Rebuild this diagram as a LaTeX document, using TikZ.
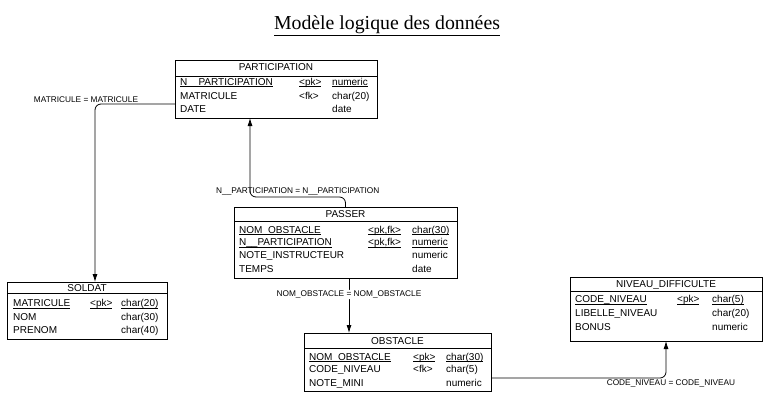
\documentclass[tikz,border=0pt]{standalone}
\usepackage{fontspec}
\setmainfont{Liberation Serif}
\setsansfont{Liberation Sans}
\usetikzlibrary{arrows.meta}

\newcommand{\keyul}[1]{\setbox0\hbox{#1}\rlap{\rule[-1.8pt]{\wd0}{0.7pt}}\box0}

\begin{document}
\begin{tikzpicture}[x=1pt,y=-1pt,
    tbl/.style={draw, line width=.8pt, inner sep=0pt, outer sep=0pt},
    head/.style={anchor=base, inner sep=0pt, font=\sffamily\fontsize{10}{11}\selectfont},
    attr/.style={anchor=base west, inner sep=0pt, font=\sffamily\fontsize{10}{11}\selectfont},
    link/.style={line width=.8pt, rounded corners=6pt, -{Latex[length=8pt,width=5pt]}},
    lbl/.style={font=\sffamily\fontsize{8.3}{9}\selectfont, inner sep=1pt}]
    \useasboundingbox (0,0) rectangle (768,416);
    \node[font=\fontsize{19.8}{22}\selectfont, anchor=base, inner sep=0pt] (title) at (387,29.5) {\underline{Modèle logique des données}};

    % tables
    \node[tbl, minimum width=202, minimum height=58] (participation) at (276,89) {};
    \node[tbl, minimum width=223, minimum height=71] (passer) at (345.5,242.5) {};
    \node[tbl, minimum width=160, minimum height=57] (soldat) at (87,310.5) {};
    \node[tbl, minimum width=187, minimum height=58] (obstacle) at (397.5,362) {};
    \node[tbl, minimum width=192, minimum height=64] (niveau) at (666,309) {};
    \draw[line width=.8pt] ([yshift=-16]participation.north west) -- ([yshift=-16]participation.north east);
    \draw[line width=.8pt] ([yshift=-14]passer.north west) -- ([yshift=-14]passer.north east);
    \draw[line width=.8pt] ([yshift=-11]soldat.north west) -- ([yshift=-11]soldat.north east);
    \draw[line width=.8pt] ([yshift=-15]obstacle.north west) -- ([yshift=-15]obstacle.north east);
    \draw[line width=.8pt] ([yshift=-14]niveau.north west) -- ([yshift=-14]niveau.north east);

    % PARTICIPATION
    \node[head] (participation-h) at (276,70.7) {PARTICIPATION};
    \foreach \yb/\nm/\ky/\ty [count=\i] in {85/\keyul{N\_\_PARTICIPATION}/\keyul{<pk>}/\keyul{numeric},
        99/MATRICULE/<fk>/char(20), 112/DATE//date} {
      \node[attr] (participation-n\i) at (180,\yb) {\nm};
      \node[attr] (participation-k\i) at (299,\yb) {\ky};
      \node[attr] (participation-t\i) at (332,\yb) {\ty};
    }
    % PASSER
    \node[head] (passer-h) at (345.5,217) {PASSER};
    \foreach \yb/\nm/\ky/\ty [count=\i] in {233/\keyul{NOM\_OBSTACLE}/\keyul{<pk,fk>}/\keyul{char(30)},
        245.5/\keyul{N\_\_PARTICIPATION}/\keyul{<pk,fk>}/\keyul{numeric},
        258/NOTE\_INSTRUCTEUR//numeric, 272.5/TEMPS//date} {
      \node[attr] (passer-n\i) at (239,\yb) {\nm};
      \node[attr] (passer-k\i) at (368,\yb) {\ky};
      \node[attr] (passer-t\i) at (412,\yb) {\ty};
    }
    % SOLDAT
    \node[head] (soldat-h) at (87,291) {SOLDAT};
    \foreach \yb/\nm/\ky/\ty [count=\i] in {306.5/\keyul{MATRICULE}/\keyul{<pk>}/\keyul{char(20)},
        320/NOM//char(30), 333/PRENOM//char(40)} {
      \node[attr] (soldat-n\i) at (13,\yb) {\nm};
      \node[attr] (soldat-k\i) at (90,\yb) {\ky};
      \node[attr] (soldat-t\i) at (121,\yb) {\ty};
    }
    % OBSTACLE
    \node[head] (obstacle-h) at (397.5,344) {OBSTACLE};
    \foreach \yb/\nm/\ky/\ty [count=\i] in {360/\keyul{NOM\_OBSTACLE}/\keyul{<pk>}/\keyul{char(30)},
        372.5/CODE\_NIVEAU/<fk>/char(5), 386/NOTE\_MINI//numeric} {
      \node[attr] (obstacle-n\i) at (309,\yb) {\nm};
      \node[attr] (obstacle-k\i) at (413,\yb) {\ky};
      \node[attr] (obstacle-t\i) at (446,\yb) {\ty};
    }
    % NIVEAU_DIFFICULTE
    \node[head] (niveau-h) at (666,287.5) {NIVEAU\_DIFFICULTE};
    \foreach \yb/\nm/\ky/\ty [count=\i] in {302.5/\keyul{CODE\_NIVEAU}/\keyul{<pk>}/\keyul{char(5)},
        316.5/LIBELLE\_NIVEAU//char(20), 330.5/BONUS//numeric} {
      \node[attr] (niveau-n\i) at (575,\yb) {\nm};
      \node[attr] (niveau-k\i) at (677,\yb) {\ky};
      \node[attr] (niveau-t\i) at (712,\yb) {\ty};
    }

    % references
    \draw[link] ([yshift=14]participation.south west) -|
      node[lbl, pos=.5, above, xshift=-9] (lbl-matricule) {MATRICULE = MATRICULE} ([xshift=8]soldat.north);
    \draw[link] (passer.north) -- ++(0,-10) -|
      node[lbl, pos=.25, above] (lbl-participation) {N\_\_PARTICIPATION = N\_\_PARTICIPATION} ([xshift=-26]participation.south);
    \draw[link] ([xshift=3.5]passer.south) --
      node[lbl, pos=.3, fill=white] (lbl-obstacle) {NOM\_OBSTACLE = NOM\_OBSTACLE} ([xshift=3.5]passer.south |- obstacle.north);
    \draw[link] ([yshift=13]obstacle.south east) -|
      node[lbl, pos=.5, below, xshift=5] (lbl-niveau) {CODE\_NIVEAU = CODE\_NIVEAU} (niveau.south);
\end{tikzpicture}
\end{document}
